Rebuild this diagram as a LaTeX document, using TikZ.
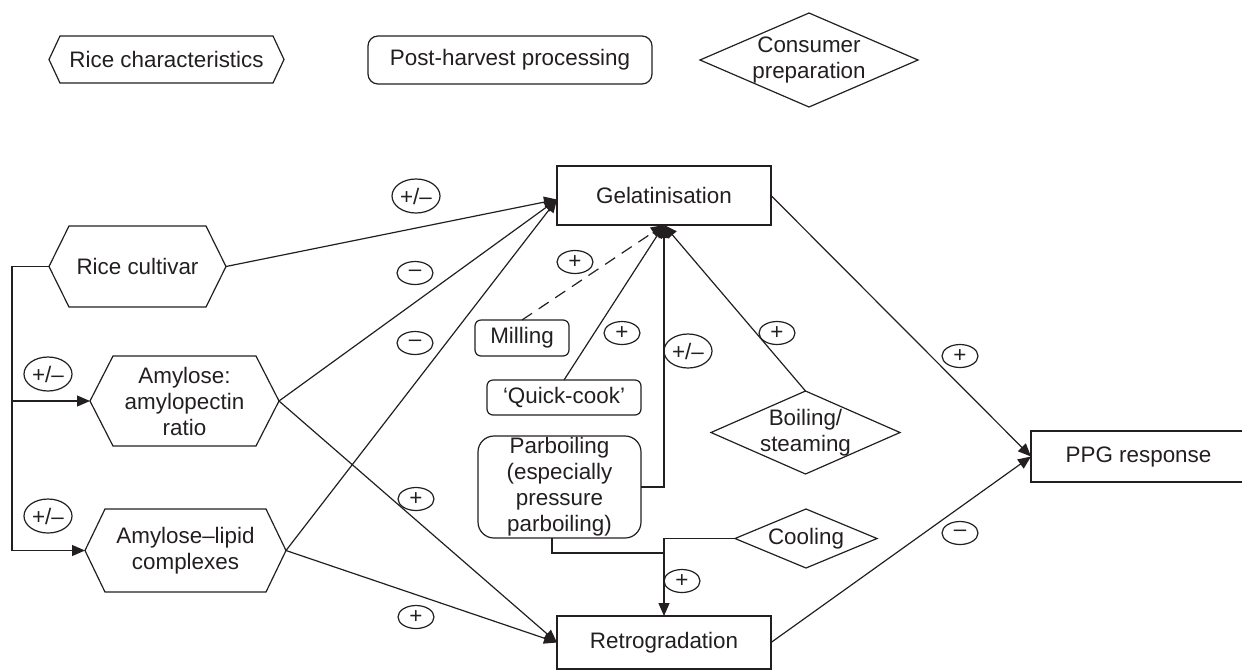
\documentclass[tikz,border=0pt]{standalone}
\usepackage{fontspec}
\setmainfont{Liberation Sans}
\usetikzlibrary{arrows.meta,shapes.geometric,calc}
\definecolor{ink}{RGB}{35,31,32}
\newcommand\hexshape[2]{\draw[shapeline] (#1.west) -- ($(#1.north west)+(#2,0)$) -- ($(#1.north east)+(-#2,0)$) -- (#1.east) -- ($(#1.south east)+(-#2,0)$) -- ($(#1.south west)+(#2,0)$) -- cycle;}
\newcommand\diashape[1]{\draw[shapeline] (#1.west) -- (#1.north) -- (#1.east) -- (#1.south) -- cycle;}
\begin{document}
\begin{tikzpicture}[x=0.5pt,y=-0.5pt,
  font=\fontsize{11.2}{13}\selectfont,
  txt/.style={inner sep=0pt, outer sep=0pt, align=center, text=ink},
  box/.style={txt, draw=ink, line width=0.6pt, rectangle},
  lab/.style={ellipse, draw=ink, line width=0.6pt, inner sep=0pt, outer sep=0pt, minimum width=18pt, minimum height=11.5pt, text=ink},
  biglab/.style={lab, minimum width=24pt, minimum height=17pt},
  shapeline/.style={draw=ink, line width=0.6pt},
  link/.style={draw=ink, line width=0.6pt},
  arr/.style={link, -{Triangle[length=6.5pt,width=5.5pt]}}
]
\useasboundingbox (0,0) rectangle (1242,671);

% legend
\node[txt, minimum width=117.5pt, minimum height=23.5pt] (lg1) at (166.5,59.5) {Rice characteristics};
\hexshape{lg1}{11}
\node[box, rounded corners=5pt, minimum width=142pt, minimum height=24pt] (lg2) at (510,60) {Post-harvest processing};
\node[txt, minimum width=109pt, minimum height=47pt] (lg3) at (809,60) {Consumer\\preparation};
\diashape{lg3}

% main boxes
\node[box, minimum width=107pt, minimum height=29.5pt] (gel) at (664,195.5) {Gelatinisation};
\node[box, minimum width=107pt, minimum height=26.5pt] (ret) at (664,642.5) {Retrogradation};
\node[box, minimum width=107.5pt, minimum height=25.5pt] (ppg) at (1138.5,456.5) {PPG response};

% rice characteristics
\node[txt, minimum width=88.5pt, minimum height=40.5pt] (rc) at (137.5,266.5) {Rice cultivar};
\hexshape{rc}{20}
\node[txt, minimum width=94.5pt, minimum height=45pt] (am) at (184.5,401) {Amylose:\\amylopectin\\ratio};
\hexshape{am}{23}
\node[txt, minimum width=100.5pt, minimum height=41.5pt] (al) at (185.5,550.5) {Amylose–lipid\\complexes};
\hexshape{al}{20}

% processing
\node[box, rounded corners=3pt, minimum width=47pt, minimum height=18pt] (mil) at (522,338) {Milling};
\node[box, rounded corners=3pt, minimum width=77pt, minimum height=17.5pt] (qc) at (564,397.5) {‘Quick-cook’};
\node[box, rounded corners=8pt, minimum width=81.5pt, minimum height=51pt] (pb) at (559.5,487) {Parboiling\\(especially\\pressure\\parboiling)};

% consumer preparation
\node[txt, minimum width=94.5pt, minimum height=41.5pt] (boil) at (805.5,432.5) {Boiling/\\steaming};
\diashape{boil}
\node[txt, minimum width=71pt, minimum height=29.5pt] (cool) at (806,538.5) {Cooling};
\diashape{cool}

% connectors
\coordinate (gin) at ($(gel.west)+(0,4)$);
\coordinate (bx) at (12,0);
\draw[link] (rc.west) -- (rc.west -| bx) -- (al.west -| bx);
\draw[arr] (am.west -| bx) -- (am.west);
\draw[arr] (al.west -| bx) -- (al.west);
\draw[arr] (rc.east) -- (gin);
\draw[arr] (am.east) -- (gin);
\draw[arr] (al.east) -- (gin);
\draw[arr] (am.east) -- (ret.west);
\draw[arr] (al.east) -- (ret.west);
\draw[arr, dash pattern=on 6pt off 4pt] (mil.north) -- (gel.south);
\draw[arr] (qc.north) -- (gel.south);
\draw[arr] (pb.east) -- (pb.east -| gel.south) -- (gel.south);
\draw[arr] (boil.north) -- (gel.south);
\coordinate (pbo) at ($(pb.south)+(-7.5,0)$);
\coordinate (jn) at ($(ret.north)+(0,-63)$);
\draw[link] (pbo) -- (pbo |- jn) -- (jn);
\draw[arr] (cool.west) -- (cool.west -| ret.north) -- (ret.north);
\draw[arr] (gel.east) -- (ppg.west);
\draw[arr] (ret.east) -- (ppg.west);

% labels
\node[biglab] (l1) at (48,374) {+/–};
\node[biglab] (l2) at (48,516) {+/–};
\node[biglab] (l3) at (416,196) {+/–};
\node[lab] (l4) at (415,273) {–};
\node[lab] (l5) at (415,343) {–};
\node[lab] (l6) at (575,262) {+};
\node[lab] (l7) at (622,333) {+};
\node[biglab] (l8) at (688,351) {+/–};
\node[lab] (l9) at (777,333) {+};
\node[lab] (l10) at (960,356) {+};
\node[lab] (l11) at (960,533) {–};
\node[lab] (l12) at (416,499) {+};
\node[lab] (l13) at (416,617) {+};
\node[lab] (l14) at (682,581) {+};
\end{tikzpicture}
\end{document}
